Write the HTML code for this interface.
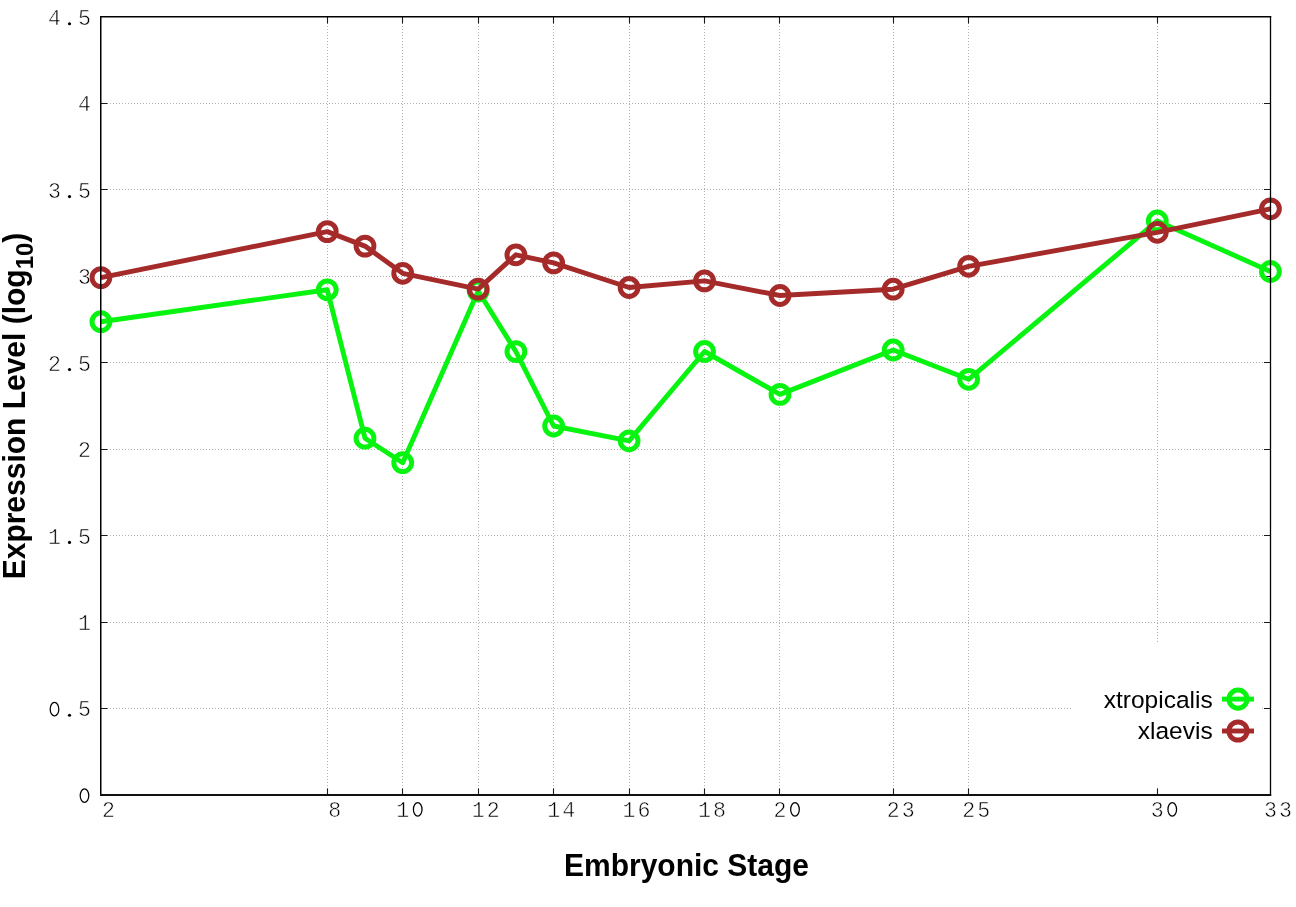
<!DOCTYPE html>
<html><head><meta charset="utf-8"><style>
html,body{margin:0;padding:0;background:#fff;width:1296px;height:907px;overflow:hidden}
svg{display:block;will-change:transform}
.m{font-family:"Liberation Mono",monospace;font-size:21.6px;fill:#000;stroke:#fff;stroke-width:0.55px}
.s{font-family:"Liberation Sans",sans-serif;fill:#000}
</style></head><body>
<svg width="1296" height="907" viewBox="0 0 1296 907">
<rect x="0" y="0" width="1296" height="907" fill="#fff"/>

<path d="M101 708.5H1270 M101 622.5H1270 M101 535.5H1270 M101 449.5H1270 M101 362.5H1270 M101 276.5H1270 M101 189.5H1270 M101 103.5H1270 M327.5 17V794 M402.5 17V794 M478.5 17V794 M553.5 17V794 M629.5 17V794 M704.5 17V794 M779.5 17V794 M893.5 17V794 M968.5 17V794 M1157.5 17V794" stroke="#b2b2b2" stroke-width="1" stroke-dasharray="1 2" fill="none"/>
<rect x="1071.5" y="642" width="190" height="146" fill="#fff"/>
<path d="M101 708.5H107.5 M1270.5 708.5H1264 M101 622.5H107.5 M1270.5 622.5H1264 M101 535.5H107.5 M1270.5 535.5H1264 M101 449.5H107.5 M1270.5 449.5H1264 M101 362.5H107.5 M1270.5 362.5H1264 M101 276.5H107.5 M1270.5 276.5H1264 M101 189.5H107.5 M1270.5 189.5H1264 M101 103.5H107.5 M1270.5 103.5H1264 M327.5 795V788.5 M327.5 17V23.5 M402.5 795V788.5 M402.5 17V23.5 M478.5 795V788.5 M478.5 17V23.5 M553.5 795V788.5 M553.5 17V23.5 M629.5 795V788.5 M629.5 17V23.5 M704.5 795V788.5 M704.5 17V23.5 M779.5 795V788.5 M779.5 17V23.5 M893.5 795V788.5 M893.5 17V23.5 M968.5 795V788.5 M968.5 17V23.5 M1157.5 795V788.5 M1157.5 17V23.5" stroke="#1a1a1a" stroke-width="1.1" fill="none"/>
<polyline points="100.90,321.70 327.26,289.80 364.99,438.20 402.72,462.70 478.17,291.00 515.90,351.60 553.62,426.00 629.08,440.80 704.53,351.50 779.99,394.40 893.17,350.00 968.62,379.30 1157.26,221.00 1270.44,271.50" fill="none" stroke="#08f410" stroke-width="4.9" stroke-linejoin="round"/><circle cx="100.90" cy="321.70" r="8.9" fill="none" stroke="#08f410" stroke-width="5.0"/><circle cx="327.26" cy="289.80" r="8.9" fill="none" stroke="#08f410" stroke-width="5.0"/><circle cx="364.99" cy="438.20" r="8.9" fill="none" stroke="#08f410" stroke-width="5.0"/><circle cx="402.72" cy="462.70" r="8.9" fill="none" stroke="#08f410" stroke-width="5.0"/><circle cx="478.17" cy="291.00" r="8.9" fill="none" stroke="#08f410" stroke-width="5.0"/><circle cx="515.90" cy="351.60" r="8.9" fill="none" stroke="#08f410" stroke-width="5.0"/><circle cx="553.62" cy="426.00" r="8.9" fill="none" stroke="#08f410" stroke-width="5.0"/><circle cx="629.08" cy="440.80" r="8.9" fill="none" stroke="#08f410" stroke-width="5.0"/><circle cx="704.53" cy="351.50" r="8.9" fill="none" stroke="#08f410" stroke-width="5.0"/><circle cx="779.99" cy="394.40" r="8.9" fill="none" stroke="#08f410" stroke-width="5.0"/><circle cx="893.17" cy="350.00" r="8.9" fill="none" stroke="#08f410" stroke-width="5.0"/><circle cx="968.62" cy="379.30" r="8.9" fill="none" stroke="#08f410" stroke-width="5.0"/><circle cx="1157.26" cy="221.00" r="8.9" fill="none" stroke="#08f410" stroke-width="5.0"/><circle cx="1270.44" cy="271.50" r="8.9" fill="none" stroke="#08f410" stroke-width="5.0"/>
<polyline points="100.90,277.60 327.26,231.60 364.99,246.10 402.72,273.30 478.17,289.10 515.90,254.80 553.62,262.90 629.08,287.50 704.53,280.90 779.99,295.50 893.17,289.20 968.62,266.30 1157.26,232.30 1270.44,208.80" fill="none" stroke="#a52a2a" stroke-width="4.9" stroke-linejoin="round"/><circle cx="100.90" cy="277.60" r="8.9" fill="none" stroke="#a52a2a" stroke-width="5.0"/><circle cx="327.26" cy="231.60" r="8.9" fill="none" stroke="#a52a2a" stroke-width="5.0"/><circle cx="364.99" cy="246.10" r="8.9" fill="none" stroke="#a52a2a" stroke-width="5.0"/><circle cx="402.72" cy="273.30" r="8.9" fill="none" stroke="#a52a2a" stroke-width="5.0"/><circle cx="478.17" cy="289.10" r="8.9" fill="none" stroke="#a52a2a" stroke-width="5.0"/><circle cx="515.90" cy="254.80" r="8.9" fill="none" stroke="#a52a2a" stroke-width="5.0"/><circle cx="553.62" cy="262.90" r="8.9" fill="none" stroke="#a52a2a" stroke-width="5.0"/><circle cx="629.08" cy="287.50" r="8.9" fill="none" stroke="#a52a2a" stroke-width="5.0"/><circle cx="704.53" cy="280.90" r="8.9" fill="none" stroke="#a52a2a" stroke-width="5.0"/><circle cx="779.99" cy="295.50" r="8.9" fill="none" stroke="#a52a2a" stroke-width="5.0"/><circle cx="893.17" cy="289.20" r="8.9" fill="none" stroke="#a52a2a" stroke-width="5.0"/><circle cx="968.62" cy="266.30" r="8.9" fill="none" stroke="#a52a2a" stroke-width="5.0"/><circle cx="1157.26" cy="232.30" r="8.9" fill="none" stroke="#a52a2a" stroke-width="5.0"/><circle cx="1270.44" cy="208.80" r="8.9" fill="none" stroke="#a52a2a" stroke-width="5.0"/>
<text class="s" x="1212.7" y="707.8" font-size="24.5" text-anchor="end">xtropicalis</text>
<text class="s" x="1212.7" y="739.3" font-size="24.5" text-anchor="end">xlaevis</text>
<path d="M1222 699.1H1254" stroke="#08f410" stroke-width="4.9"/><circle cx="1238" cy="699.1" r="9.1" fill="none" stroke="#08f410" stroke-width="5.0"/>
<path d="M1222 731H1254" stroke="#a52a2a" stroke-width="4.9"/><circle cx="1238" cy="731" r="9.1" fill="none" stroke="#a52a2a" stroke-width="5.0"/>
<path d="M100.75 16V796" stroke="#000" stroke-width="1.5" fill="none"/>
<path d="M1270.5 16V796" stroke="#000" stroke-width="1.3" fill="none"/>
<path d="M100 16.75H1271.2" stroke="#000" stroke-width="1.5" fill="none"/>
<path d="M100 795H1271.2" stroke="#111" stroke-width="2" fill="none"/>
<ellipse cx="84.50" cy="795.60" rx="4.3" ry="6.75" fill="none" stroke="#000" stroke-width="1.25"/>
<ellipse cx="54.50" cy="709.16" rx="4.3" ry="6.75" fill="none" stroke="#000" stroke-width="1.25"/><circle cx="69.50" cy="715.26" r="1.6" fill="#000"/><text class="m" x="84.50" y="716.46" text-anchor="middle">5</text>
<text class="m" x="84.50" y="630.02" text-anchor="middle">1</text>
<text class="m" x="54.50" y="543.58" text-anchor="middle">1</text><circle cx="69.50" cy="542.38" r="1.6" fill="#000"/><text class="m" x="84.50" y="543.58" text-anchor="middle">5</text>
<text class="m" x="84.50" y="457.14" text-anchor="middle">2</text>
<text class="m" x="54.50" y="370.70" text-anchor="middle">2</text><circle cx="69.50" cy="369.50" r="1.6" fill="#000"/><text class="m" x="84.50" y="370.70" text-anchor="middle">5</text>
<text class="m" x="84.50" y="284.26" text-anchor="middle">3</text>
<text class="m" x="54.50" y="197.82" text-anchor="middle">3</text><circle cx="69.50" cy="196.62" r="1.6" fill="#000"/><text class="m" x="84.50" y="197.82" text-anchor="middle">5</text>
<text class="m" x="84.50" y="111.38" text-anchor="middle">4</text>
<text class="m" x="54.50" y="24.94" text-anchor="middle">4</text><circle cx="69.50" cy="23.74" r="1.6" fill="#000"/><text class="m" x="84.50" y="24.94" text-anchor="middle">5</text>
<text class="m" x="108.40" y="816.70" text-anchor="middle">2</text>
<text class="m" x="334.76" y="816.70" text-anchor="middle">8</text>
<text class="m" x="402.72" y="816.70" text-anchor="middle">1</text><ellipse cx="417.72" cy="809.40" rx="4.3" ry="6.75" fill="none" stroke="#000" stroke-width="1.25"/>
<text class="m" x="478.17" y="816.70" text-anchor="middle">1</text><text class="m" x="493.17" y="816.70" text-anchor="middle">2</text>
<text class="m" x="553.62" y="816.70" text-anchor="middle">1</text><text class="m" x="568.62" y="816.70" text-anchor="middle">4</text>
<text class="m" x="629.08" y="816.70" text-anchor="middle">1</text><text class="m" x="644.08" y="816.70" text-anchor="middle">6</text>
<text class="m" x="704.53" y="816.70" text-anchor="middle">1</text><text class="m" x="719.53" y="816.70" text-anchor="middle">8</text>
<text class="m" x="779.99" y="816.70" text-anchor="middle">2</text><ellipse cx="794.99" cy="809.40" rx="4.3" ry="6.75" fill="none" stroke="#000" stroke-width="1.25"/>
<text class="m" x="893.17" y="816.70" text-anchor="middle">2</text><text class="m" x="908.17" y="816.70" text-anchor="middle">3</text>
<text class="m" x="968.62" y="816.70" text-anchor="middle">2</text><text class="m" x="983.62" y="816.70" text-anchor="middle">5</text>
<text class="m" x="1157.26" y="816.70" text-anchor="middle">3</text><ellipse cx="1172.26" cy="809.40" rx="4.3" ry="6.75" fill="none" stroke="#000" stroke-width="1.25"/>
<text class="m" x="1270.44" y="816.70" text-anchor="middle">3</text><text class="m" x="1285.44" y="816.70" text-anchor="middle">3</text>
<text class="s" transform="translate(686.5,876) scale(1,1.03)" x="0" y="0" font-size="30" font-weight="bold" text-anchor="middle">Embryonic Stage</text>
<text class="s" transform="translate(25,579.3) rotate(-90) scale(1,1.03)" font-size="30" font-weight="bold" text-anchor="start">Expression Level (log<tspan font-size="24" dy="7.5">10</tspan><tspan dy="-7.5">)</tspan></text>
</svg></body></html>
